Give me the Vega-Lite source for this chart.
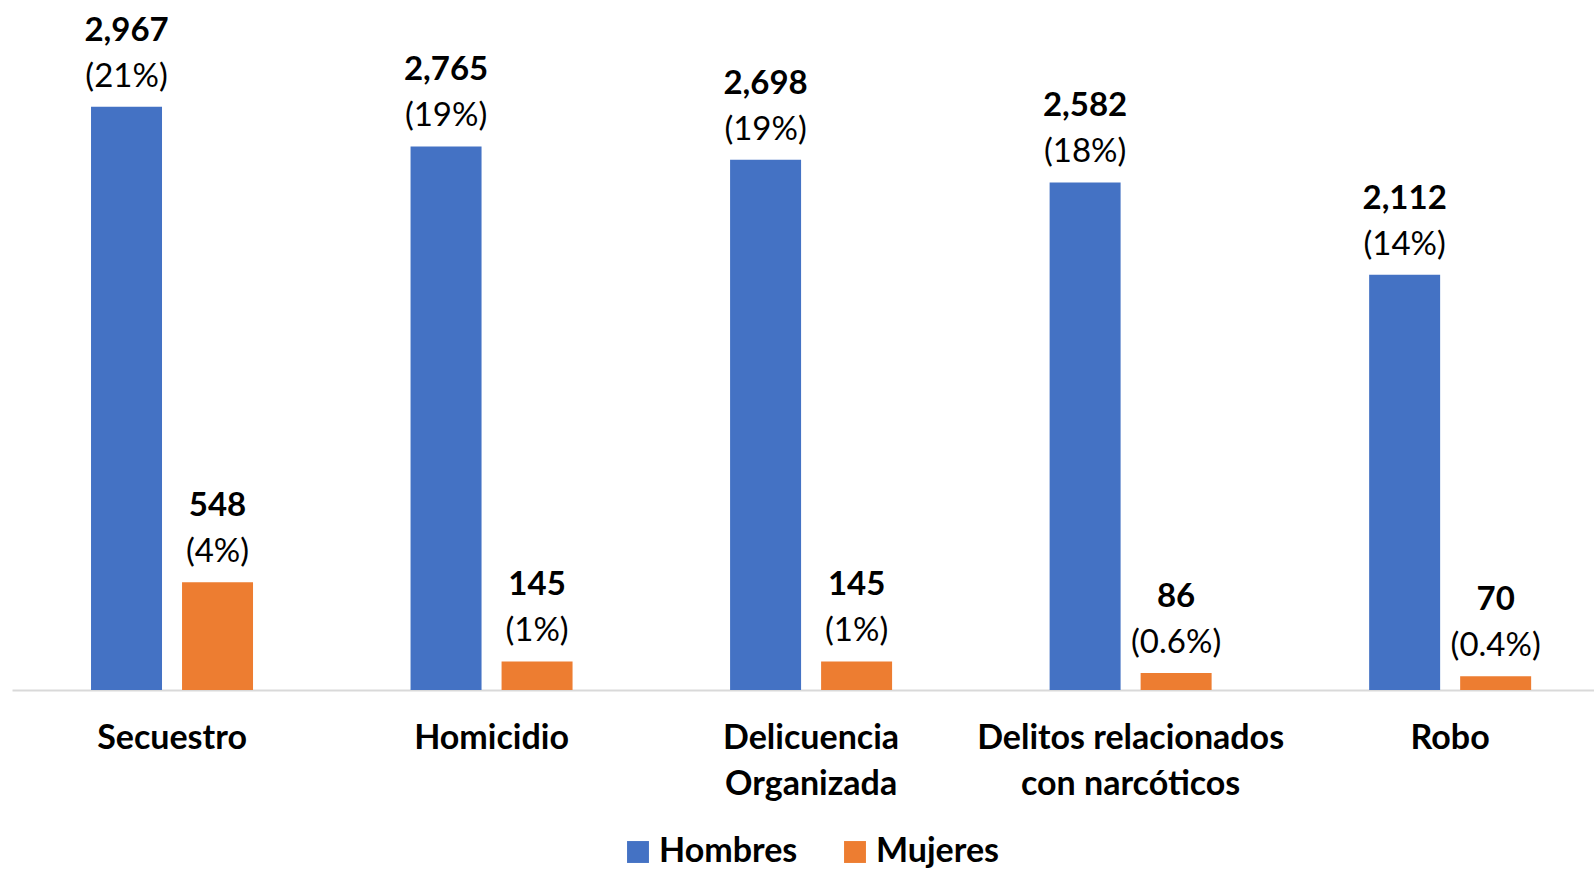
{
  "$schema": "https://vega.github.io/schema/vega-lite/v6.json",
  "width": 1582,
  "height": 688,
  "autosize": {"type": "none"},
  "padding": {"left": 12, "top": 2, "right": 0, "bottom": 179},
  "background": "#ffffff",
  "config": {
    "view": {"stroke": null},
    "font": "Lato"
  },
  "data": {
    "values": [
      {"delito": "Secuestro", "sexo": "Hombres", "valor": 2967, "pct": "(21%)"},
      {"delito": "Secuestro", "sexo": "Mujeres", "valor": 548, "pct": "(4%)"},
      {"delito": "Homicidio", "sexo": "Hombres", "valor": 2765, "pct": "(19%)"},
      {"delito": "Homicidio", "sexo": "Mujeres", "valor": 145, "pct": "(1%)"},
      {"delito": "Delicuencia Organizada", "sexo": "Hombres", "valor": 2698, "pct": "(19%)"},
      {"delito": "Delicuencia Organizada", "sexo": "Mujeres", "valor": 145, "pct": "(1%)"},
      {"delito": "Delitos relacionados con narcóticos", "sexo": "Hombres", "valor": 2582, "pct": "(18%)"},
      {"delito": "Delitos relacionados con narcóticos", "sexo": "Mujeres", "valor": 86, "pct": "(0.6%)"},
      {"delito": "Robo", "sexo": "Hombres", "valor": 2112, "pct": "(14%)"},
      {"delito": "Robo", "sexo": "Mujeres", "valor": 70, "pct": "(0.4%)"}
    ]
  },
  "encoding": {
    "x": {
      "field": "delito",
      "type": "nominal",
      "sort": null,
      "scale": {"paddingInner": 0.493, "paddingOuter": 0.222, "align": 0.557},
      "axis": {
        "title": null,
        "labelAngle": 0,
        "labelFont": "Lato",
        "labelFontSize": 34,
        "labelFontWeight": "bold",
        "labelColor": "#000000",
        "labelBaseline": "top",
        "labelPadding": 31,
        "labelLineHeight": 46,
        "labelLimit": 0,
        "labelOverlap": false,
        "ticks": false,
        "domainColor": "#D9D9D9",
        "domainWidth": 2,
        "labelExpr": "datum.value == 'Delicuencia Organizada' ? ['Delicuencia', 'Organizada'] : datum.value == 'Delitos relacionados con narcóticos' ? ['Delitos relacionados', 'con narcóticos'] : datum.value"
      }
    },
    "xOffset": {
      "field": "sexo",
      "type": "nominal",
      "scale": {"paddingInner": 0.22, "paddingOuter": 0}
    },
    "y": {
      "field": "valor",
      "type": "quantitative",
      "scale": {"domain": [0, 3500], "nice": false},
      "axis": null
    }
  },
  "layer": [
    {
      "mark": {"type": "bar"},
      "encoding": {
        "color": {
          "field": "sexo",
          "type": "nominal",
          "scale": {"domain": ["Hombres", "Mujeres"], "range": ["#4472C4", "#ED7D31"]},
          "legend": {
            "title": null,
            "orient": "none",
            "direction": "horizontal",
            "legendX": 609,
            "legendY": 833,
            "symbolType": "square",
            "symbolSize": 480,
            "symbolStrokeWidth": 0,
            "labelFont": "Lato",
            "labelFontSize": 34,
            "labelFontWeight": "bold",
            "labelColor": "#000000",
            "labelOffset": 4,
            "columnPadding": 40,
            "labelLimit": 400
          }
        }
      }
    },
    {
      "mark": {"type": "text", "baseline": "middle", "dy": -76, "fontSize": 33, "fontWeight": "bold", "font": "Lato", "color": "#000000"},
      "encoding": {
        "text": {"field": "valor", "type": "quantitative", "format": ","}
      }
    },
    {
      "mark": {"type": "text", "baseline": "middle", "dy": -30, "fontSize": 33, "font": "Lato", "color": "#000000"},
      "encoding": {
        "text": {"field": "pct", "type": "nominal"}
      }
    }
  ]
}
